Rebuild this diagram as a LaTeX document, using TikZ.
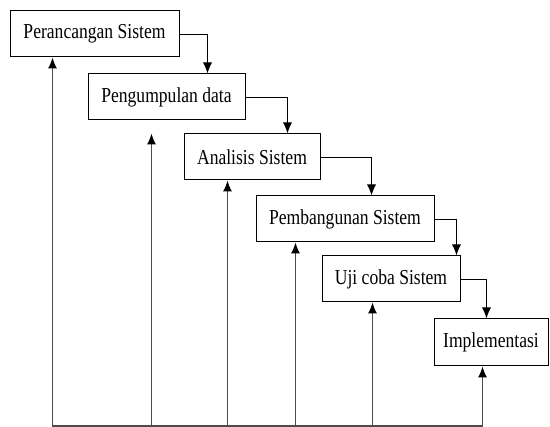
\documentclass[tikz,border=0pt]{standalone}
\usepackage{fontspec}
\setmainfont{Liberation Serif}
\usetikzlibrary{arrows.meta}

\begin{document}
\begin{tikzpicture}[x=1pt, y=-1pt, every node/.style={font=\fontsize{18.5}{20}\selectfont},
                    stage/.style={draw=black, line width=1pt, minimum height=46pt, inner sep=0pt, align=center},
                    flow/.style={-{Latex[length=11pt,width=9pt]}, line width=0.9pt},
                    feed/.style={-{Latex[length=11pt,width=9pt,color=black]}, line width=1.1pt, draw=black!70}]
        \useasboundingbox (0,0) rectangle (550,427);

        \node (b1) [stage, minimum width=169pt] at (94.5,34) {\scalebox{0.95}[1.15]{Perancangan Sistem}};
        \node (b2) [stage, minimum width=157pt] at (166.5,97) {\scalebox{0.95}[1.15]{Pengumpulan data}};
        \node (b3) [stage, minimum width=136pt] at (252,157) {\scalebox{0.95}[1.15]{Analisis Sistem}};
        \node (b4) [stage, minimum width=178pt] at (345,219) {\scalebox{0.95}[1.15]{Pembangunan Sistem}};
        \node (b5) [stage, minimum width=138pt] at (391,279) {\scalebox{0.95}[1.15]{Uji coba Sistem}};
        \node (b6) [stage, minimum width=114pt, minimum height=47pt] at (491,342.5) {\scalebox{0.95}[1.15]{Implementasi}};

        % alur maju
        \draw[flow] (b1.east) -| ([xshift=120pt]b2.north west);
        \draw[flow] (b2.east) -| ([xshift=104pt]b3.north west);
        \draw[flow] (b3.east) -| ([xshift=116pt]b4.north west);
        \draw[flow] (b4.east) -| ([xshift=135pt]b5.north west);
        \draw[flow] (b5.east) -| ([xshift=53pt]b6.north west);

        % umpan balik
        \coordinate (base) at (53,426);
        \foreach \n/\dx/\dy in {b1/43/0, b2/64/-13, b3/44/0, b4/40/0, b5/51/0, b6/49/0}
            \draw[feed] (base) -| ([xshift=\dx pt, yshift=\dy pt]\n.south west);
    \end{tikzpicture}
\end{document}
